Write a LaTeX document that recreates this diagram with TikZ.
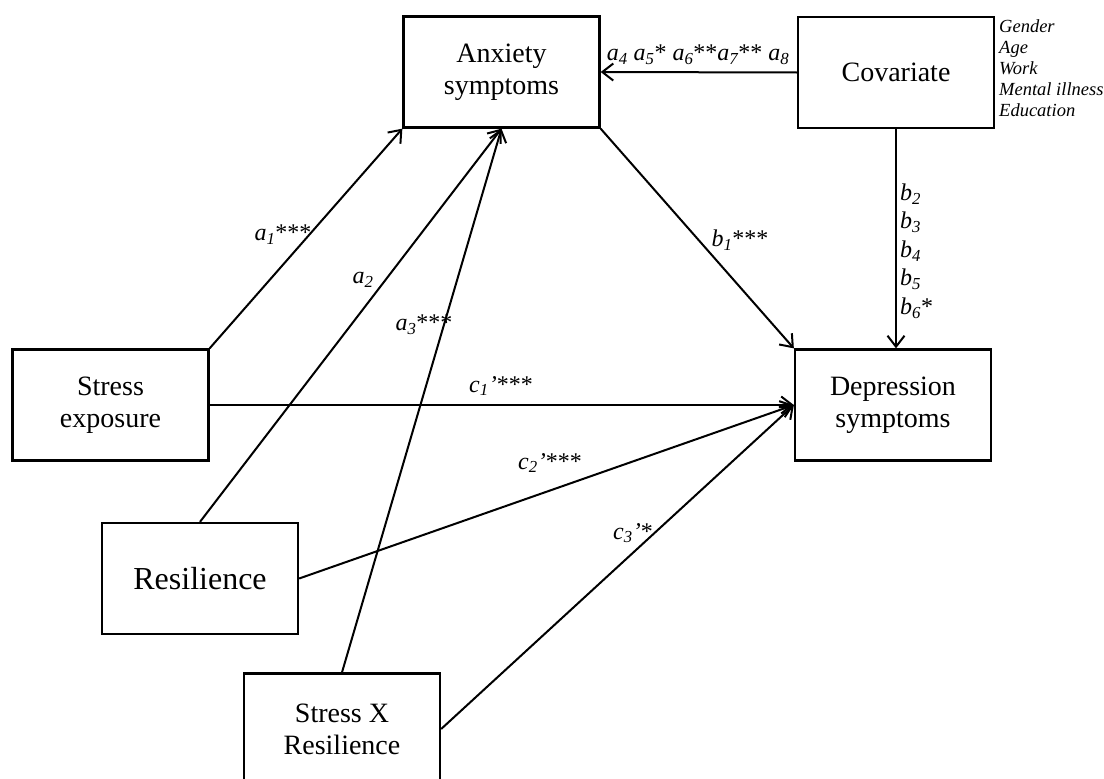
\documentclass[tikz,border=0pt]{standalone}
\usepackage{fontspec}
\setmainfont{Liberation Serif}
\usetikzlibrary{arrows.meta}
\newcommand{\coef}[3]{\textit{#1\textsubscript{#2}}#3}

\begin{document}
\begin{tikzpicture}[x=1pt,y=-1pt,
  var/.style={draw, line width=2.3pt, minimum width=196pt, minimum height=111pt,
    inner sep=0pt, align=center, font=\fontsize{28}{32}\selectfont},
  eff/.style={line width=2pt, -{Straight Barb[length=11pt,width=17pt]}},
  lab/.style={font=\fontsize{24}{27}\selectfont, inner sep=0pt}]
\useasboundingbox (0,0) rectangle (1104,779);

% variables
\node[var] (anx) at (501.5,72) {Anxiety\\symptoms};
\node[var] (cov) at (896,72.5) {Covariate};
\node[var] (dep) at (893,405) {Depression\\symptoms};
\node[var] (stress) at (110.5,405) {Stress\\exposure};
\node[var, font=\fontsize{32}{36}\selectfont] (res) at (200,578.5) {Resilience};
\node[var] (sxr) at (342,729) {Stress X\\Resilience};
\node[anchor=north west, align=left, inner sep=0pt,
  font=\fontsize{18.5}{21}\selectfont\itshape] (covlist) at (999,19)
  {Gender\\Age\\Work\\Mental illness\\Education};

% paths
\draw[eff] (stress.north east) -- (anx.south west);
\draw[eff] (res.north) -- (anx.south);
\draw[eff] (sxr.north) -- (anx.south);
\draw[eff] (anx.south east) -- (dep.north west);
\draw[eff] (stress.east) -- (dep.west);
\draw[eff] (res.east) -- (dep.west);
\draw[eff] (sxr.east) -- (dep.west);
\draw[eff] (cov.west) -- (anx.east);
\draw[eff] (cov.south) -- (cov.south |- dep.north);

% coefficients
\node[lab] (la1) at (283,235) {\coef{a}{1}{***}};
\node[lab] (la2) at (363,280) {\coef{a}{2}{}};
\node[lab] (la3) at (424,325) {\coef{a}{3}{***}};
\node[lab] (lb1) at (740,240) {\coef{b}{1}{***}};
\node[lab] (lc1) at (501,386) {\coef{c}{1}{\textit{'}***}};
\node[lab] (lc2) at (550,463) {\coef{c}{2}{\textit{'}***}};
\node[lab] (lc3) at (633,533) {\coef{c}{3}{\textit{'}*}};
\node[lab] (la4) at (698,55) {\coef{a}{4}{} \coef{a}{5}{*} \coef{a}{6}{**}\coef{a}{7}{**} \coef{a}{8}{}};
\node[lab, anchor=west, align=left, font=\fontsize{24}{28.5}\selectfont] (lb2) at (900,251)
  {\coef{b}{2}{}\\\coef{b}{3}{}\\\coef{b}{4}{}\\\coef{b}{5}{}\\\coef{b}{6}{*}};
\end{tikzpicture}
\end{document}
